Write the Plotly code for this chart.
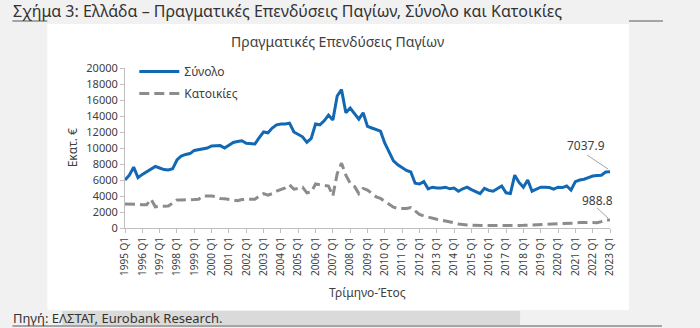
import plotly.graph_objects as go

years = list(range(1995, 2024))
quarters = [f"{y} Q{q}" for y in years for q in range(1, 5)][:113]
tick_labels = [f"{y} Q1" for y in years]

synolo = [
    6000, 6600, 7600, 6300, 6700, 7000, 7300, 7700,
    7500, 7300, 7250, 7400, 8500, 9000, 9200, 9300,
    9700, 9800, 9950, 10000, 10250, 10300, 10300, 10000,
    10400, 10700, 10800, 10900, 10600, 10550, 10500, 11300,
    12000, 11900, 12500, 12900, 13000, 13000, 13100, 12000,
    11700, 11400, 10700, 11200, 13000, 12900, 13400, 14100,
    13500, 16500, 17300, 14400, 15000, 14300, 13600, 14400,
    12700, 12500, 12300, 12100, 10600, 9500, 8400, 7900,
    7500, 7200, 7000, 5600, 5500, 5800, 4900, 5100,
    5000, 5000, 5100, 4900, 5000, 4600, 4900, 5100,
    4800, 4500, 4300, 4950, 4700, 4600, 4900, 5250,
    4400, 4300, 6600, 5700, 5100, 6000, 4600, 4900,
    5100, 5100, 5050, 4850, 5100, 5050, 5250, 4750,
    5800, 6000, 6100, 6300, 6500, 6550, 6600, 7000,
    7037.9,
]

katoikies = [
    3000, 3000, 2950, 2950, 2900, 2900, 3600, 2650,
    2700, 2700, 2750, 3100, 3500, 3500, 3500, 3500,
    3550, 3600, 4000, 4000, 4000, 3900, 3700, 3650,
    3600, 3500, 3400, 3550, 3600, 3600, 3600, 4000,
    4300, 4100, 4300, 4600, 4800, 5000, 5400, 4850,
    4950, 5100, 4400, 4500, 5500, 5400, 5300, 5250,
    4000, 6800, 8100, 6600, 5600, 5200, 4300, 4950,
    4750, 4300, 3900, 3700, 3300, 3000, 2600, 2450,
    2450, 2450, 2550, 2100, 1700, 1500, 1350, 1200,
    1100, 1000, 900, 750, 650, 500, 400, 380,
    350, 320, 300, 300, 300, 300, 290, 300,
    310, 300, 310, 320, 330, 350, 360, 380,
    400, 420, 440, 450, 460, 480, 520, 580,
    620, 680, 720, 700, 680, 670, 800, 1000,
    988.8,
]

y_ticks = [0, 2000, 4000, 6000, 8000, 10000, 12000, 14000, 16000, 18000, 20000]
y_tick_text = [str(v) for v in y_ticks]

FONT = "Noto Sans"
TXT = "#404040"

# pixel -> paper helpers (plot area: x 124.7..610, y 68..228)
L, R, T, B = 124.7, 610.0, 68.0, 228.0
def xp(px):
    return (px - L) / (R - L)
def yp(py):
    return (B - py) / (B - T)

fig = go.Figure()
fig.add_trace(go.Scatter(
    x=quarters, y=synolo, mode="lines", name="Σύνολο", legendgroup="a",
    line=dict(color="#1268b3", width=3),
))
fig.add_trace(go.Scatter(
    x=quarters, y=katoikies, mode="lines", name="Κατοικίες", legendgroup="b",
    line=dict(color="#8c8c8c", width=3, dash="10px,5px"),
))

shapes = [
    dict(type="rect", xref="paper", yref="paper", x0=xp(47), x1=xp(629), y0=yp(310), y1=yp(24),
         fillcolor="white", line=dict(width=0), layer="below"),
    dict(type="line", xref="paper", yref="paper", x0=xp(12), x1=xp(47), y0=yp(21), y1=yp(21),
         line=dict(color="#595959", width=1), layer="below"),
    dict(type="line", xref="paper", yref="paper", x0=xp(629), x1=xp(663), y0=yp(21), y1=yp(21),
         line=dict(color="#595959", width=1), layer="below"),
    dict(type="rect", xref="paper", yref="paper", x0=xp(62), x1=xp(520), y0=yp(325), y1=yp(311),
         fillcolor="#dadada", line=dict(width=0), layer="below"),
    dict(type="line", xref="paper", yref="paper", x0=xp(12), x1=xp(662), y0=yp(326), y1=yp(326),
         line=dict(color="#595959", width=1), layer="below"),
    dict(type="line", xref="paper", yref="paper", x0=xp(587), x1=xp(608), y0=yp(155), y1=yp(169),
         line=dict(color="#a6a6a6", width=1)),
    dict(type="line", xref="paper", yref="paper", x0=xp(597), x1=xp(608), y0=yp(208), y1=yp(218),
         line=dict(color="#a6a6a6", width=1)),
]

annotations = [
    dict(text="Σχήμα 3: Ελλάδα – Πραγματικές Επενδύσεις Παγίων, Σύνολο και Κατοικίες",
         xref="paper", yref="paper", x=xp(11), y=yp(11), xanchor="left", yanchor="middle",
         showarrow=False, font=dict(family=FONT, size=16, color="#333333")),
    dict(text="Πραγματικές Επενδύσεις Παγίων",
         xref="paper", yref="paper", x=xp(337), y=yp(42), xanchor="center", yanchor="middle",
         showarrow=False, font=dict(family=FONT, size=14, color="#404040")),
    dict(text="Εκατ. €", textangle=-90,
         xref="paper", yref="paper", x=xp(72), y=yp(148), xanchor="center", yanchor="middle",
         showarrow=False, font=dict(family=FONT, size=12, color=TXT)),
    dict(text="Τρίμηνο-Έτος",
         xref="paper", yref="paper", x=xp(367), y=yp(292), xanchor="center", yanchor="middle",
         showarrow=False, font=dict(family=FONT, size=12, color=TXT)),
    dict(text="Πηγή: ΕΛΣΤΑΤ, Eurobank Research.",
         xref="paper", yref="paper", x=xp(11), y=yp(318), xanchor="left", yanchor="middle",
         showarrow=False, font=dict(family=FONT, size=13, color="#333333")),
    dict(text="7037.9",
         xref="paper", yref="paper", x=xp(586), y=yp(145), xanchor="center", yanchor="middle",
         showarrow=False, font=dict(family=FONT, size=12, color=TXT)),
    dict(text="988.8",
         xref="paper", yref="paper", x=xp(597), y=yp(200), xanchor="center", yanchor="middle",
         showarrow=False, font=dict(family=FONT, size=12, color=TXT)),
]

fig.update_layout(
    width=700, height=328,
    margin=dict(l=L, r=700 - R, t=T, b=328 - B),
    paper_bgcolor="#f1f1f1",
    plot_bgcolor="white",
    font=dict(family=FONT, size=10, color=TXT),
    showlegend=True,
    legend=dict(x=xp(134), y=yp(57), xanchor="left", yanchor="top",
                bgcolor="rgba(0,0,0,0)", font=dict(family=FONT, size=12, color=TXT),
                itemwidth=40, traceorder="grouped", tracegroupgap=3),
    shapes=shapes,
    annotations=annotations,
    xaxis=dict(
        type="category", range=[0, len(quarters) - 1],
        tickmode="array", tickvals=tick_labels, ticktext=tick_labels,
        tickangle=-90, ticks="outside", ticklen=4, tickcolor="#bfbfbf",
        showline=True, linecolor="#bfbfbf", linewidth=1,
        showgrid=False, zeroline=False,
        tickfont=dict(family=FONT, size=10, color=TXT),
    ),
    yaxis=dict(
        range=[0, 20000], tickmode="array", tickvals=y_ticks, ticktext=y_tick_text,
        ticks="outside", ticklen=4, tickcolor="#bfbfbf",
        showline=True, linecolor="#bfbfbf", linewidth=1,
        showgrid=False, zeroline=False,
        tickfont=dict(family=FONT, size=11, color=TXT),
    ),
)

fig.write_html("out.html")
